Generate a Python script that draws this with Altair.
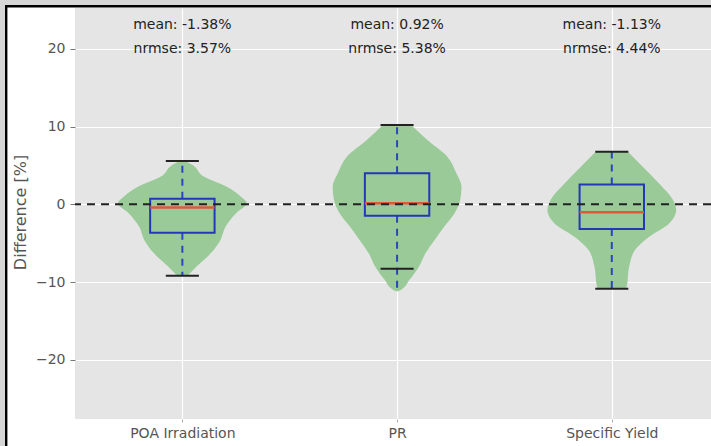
import altair as alt
import pandas as pd

# Categories and summary statistics (percent difference)
categories = ["POA Irradiation", "PR", "Specific Yield"]
mean_pct = [-1.38, 0.92, -1.13]
nrmse_pct = [3.57, 5.38, 4.44]

q1 = [-3.66, -1.47, -3.18]
median = [-0.39, 0.13, -1.03]
q3 = [0.72, 3.99, 2.57]
cap_low = [-9.19, -8.29, -10.86]
cap_high = [5.57, 10.20, 6.77]
data_min = [-9.19, -11.20, -10.86]
data_max = [5.57, 10.20, 6.77]

# Kernel density profiles: level (%) and relative width (1 = widest)
poa_levels = [-9.19, -8.0, -6.3, -4.6, -2.88, -1.16, 0.13, 0.98, 2.27, 3.55, 5.3, 5.57]
poa_density = [0.08, 0.22, 0.44, 0.59, 0.67, 0.83, 1.00, 0.91, 0.69, 0.34, 0.11, 0.03]

pr_levels = [-11.2, -11.0, -9.74, -8.0, -6.3, -4.6, -2.88, -1.16, 0.55, 2.27, 4.0, 6.13, 8.27, 10.2]
pr_density = [0.0, 0.06, 0.19, 0.34, 0.44, 0.58, 0.73, 0.89, 0.98, 1.00, 0.92, 0.78, 0.47, 0.22]

sy_levels = [-10.86, -10.6, -8.0, -5.88, -4.17, -2.45, -0.73, 0.55, 2.7, 4.84, 6.77]
sy_density = [0.22, 0.23, 0.27, 0.36, 0.58, 0.89, 1.00, 0.95, 0.73, 0.48, 0.25]

y_ticks = [-20, -10, 0, 10, 20]

positions = [1, 2, 3]
VIOLIN_HALF = 0.3
BOX_HALF = 0.15
CAP_HALF = 0.077

FONT = "DejaVu Sans"

# ---- tables built from the arrays above ----
violin_rows = []
for cat, p, levels, dens in zip(
    categories, positions,
    [poa_levels, pr_levels, sy_levels],
    [poa_density, pr_density, sy_density],
):
    for lv, d in zip(levels, dens):
        violin_rows.append({"cat": cat, "y": lv, "x": p - d * VIOLIN_HALF, "x2": p + d * VIOLIN_HALF})
violin_df = pd.DataFrame(violin_rows)

whisker_df = pd.DataFrame(
    [{"cat": c, "x": p, "y": a, "y2": b} for c, p, a, b in zip(categories, positions, q3, data_max)]
    + [{"cat": c, "x": p, "y": a, "y2": b} for c, p, a, b in zip(categories, positions, q1, data_min)]
)
box_df = pd.DataFrame({
    "cat": categories,
    "x": [p - BOX_HALF for p in positions],
    "x2": [p + BOX_HALF for p in positions],
    "y": q1, "y2": q3, "med": median,
})
cap_df = pd.DataFrame(
    [{"x": p - CAP_HALF, "x2": p + CAP_HALF, "y": v} for p, v in zip(positions, cap_low)]
    + [{"x": p - CAP_HALF, "x2": p + CAP_HALF, "y": v} for p, v in zip(positions, cap_high)]
)
text_df = pd.DataFrame(
    [{"x": p, "y": 23.0, "label": f"mean: {m:.2f}%"} for p, m in zip(positions, mean_pct)]
    + [{"x": p, "y": 20.0, "label": f"nrmse: {n:.2f}%"} for p, n in zip(positions, nrmse_pct)]
)

label_lookup = "[''," + ",".join(f"'{c}'" for c in categories) + "][datum.value]"

xscale = alt.Scale(domain=[0.5, 3.462], nice=False, zero=False)
yscale = alt.Scale(domain=[-27.6, 25.25], nice=False, zero=False)

xaxis = alt.Axis(
    values=positions, labelExpr=label_lookup, title=None,
    grid=True, gridColor="white", gridWidth=1.2, domain=False,
    tickSize=3, tickColor="#aaaaaa", labelPadding=4,
    labelFont=FONT, labelFontSize=14, labelColor="#555555",
)
yaxis = alt.Axis(
    values=y_ticks, title="Difference [%]",
    grid=True, gridColor="white", gridWidth=1.2, domain=False,
    tickSize=5, tickColor="#777777", labelPadding=5,
    labelFont=FONT, labelFontSize=14, labelColor="#555555",
    titleFont=FONT, titleFontSize=16, titleFontWeight="normal", titleColor="#555555",
    titleAngle=270, titleX=-55, titleY=204, titleAlign="center", titleBaseline="middle",
)

X = lambda: alt.X("x:Q", scale=xscale, axis=xaxis)
Y = lambda: alt.Y("y:Q", scale=yscale, axis=yaxis)

violins = alt.Chart(violin_df).mark_area(
    orient="horizontal", interpolate="monotone", color="#9aca98", opacity=1
).encode(y=Y(), x=X(), x2="x2:Q", detail="cat:N")

whiskers = alt.Chart(whisker_df).mark_rule(
    color="#2a45c0", strokeWidth=2, strokeDash=[7, 6]
).encode(x=X(), y=Y(), y2="y2:Q")

boxes = alt.Chart(box_df).mark_rect(
    fill="transparent", stroke="#2238b8", strokeWidth=2
).encode(x=X(), x2="x2:Q", y=Y(), y2="y2:Q")

medians = alt.Chart(box_df).mark_rule(color="#e0583a", strokeWidth=2.5).encode(
    x=X(), x2="x2:Q", y=alt.Y("med:Q", scale=yscale, axis=yaxis)
)

caps = alt.Chart(cap_df).mark_rule(color="#222222", strokeWidth=2).encode(
    x=X(), x2="x2:Q", y=Y()
)

zero_line = alt.Chart(pd.DataFrame({"y": [0.0]})).mark_rule(
    color="#222222", strokeWidth=2, strokeDash=[8, 6]
).encode(y=Y())

labels = alt.Chart(text_df).mark_text(
    font=FONT, fontSize=14, color="#222222", baseline="middle", align="center"
).encode(x=X(), y=Y(), text="label:N")

# page frame: grey margin strip and black border line
one = pd.DataFrame({"k": [0]})
margin_strip = alt.Chart(one).mark_rect(
    fill="transparent", stroke="#d6d6d6", strokeWidth=10
).encode(x=alt.value(-75), x2=alt.value(800), y=alt.value(-8), y2=alt.value(600))
border = alt.Chart(one).mark_rect(
    fill="transparent", stroke="#000000", strokeWidth=2.4
).encode(x=alt.value(-68.8), x2=alt.value(800), y=alt.value(-1.8), y2=alt.value(600))

chart = alt.layer(
    violins, whiskers, boxes, medians, caps, zero_line, labels, margin_strip, border
).properties(
    width=636, height=411,
    autosize=alt.AutoSizeParams(type="none"),
    padding={"left": 75, "top": 8, "right": 0, "bottom": 27},
    background="white",
).configure_view(fill="#e5e5e5", stroke=None)

chart.save("out.html", embed_options={"renderer": "svg", "actions": False})
